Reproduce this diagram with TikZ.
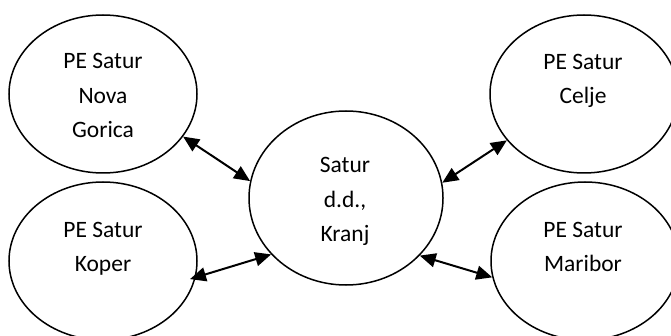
\documentclass[tikz,border=0pt]{standalone}
\usepackage{fontspec}
\setmainfont{Carlito}
\usetikzlibrary{arrows.meta,shapes.geometric}
\begin{document}
\begin{tikzpicture}[x=1pt,y=-1pt,
  office/.style={draw,line width=1.5pt,ellipse,inner sep=0pt,
    minimum width=188pt,minimum height=158pt},
  hq/.style={office,minimum width=194pt,minimum height=174pt},
  officetext/.style={font=\fontsize{23.5}{34.5}\selectfont,align=center,
    anchor=base,inner sep=0pt},
  link/.style={line width=2pt,
    {Triangle[length=16pt,width=14pt]}-{Triangle[length=16pt,width=14pt]}}]
\useasboundingbox (0,0) rectangle (671,336);

% offices
\node[office] (ng) at (103,94) {};
\node[office] (kp) at (103,261) {};
\node[hq] (sat) at (346,198) {};
\node[office] (ce) at (584,94) {};
\node[office] (mb) at (585,261) {};

% their names (placed by the baseline of the last line)
\node[officetext] (ngt) at (103,138) {PE Satur\\Nova\\Gorica};
\node[officetext] (kpt) at (103,272) {PE Satur\\Koper};
\node[officetext] (satt) at (345,242) {Satur\\d.d.,\\Kranj};
\node[officetext] (cet) at (583,104) {PE Satur\\Celje};
\node[officetext] (mbt) at (583,272) {PE Satur\\Maribor};

% two-way links to the head office
\draw[link] (ng.-28) -- (sat.170);
\draw[link,shorten <=-6pt] (kp.-10) -- (sat.217);
\draw[link] (sat.9.5) -- (ce.211);
\draw[link] (sat.-38) -- (mb.190);
\end{tikzpicture}
\end{document}
